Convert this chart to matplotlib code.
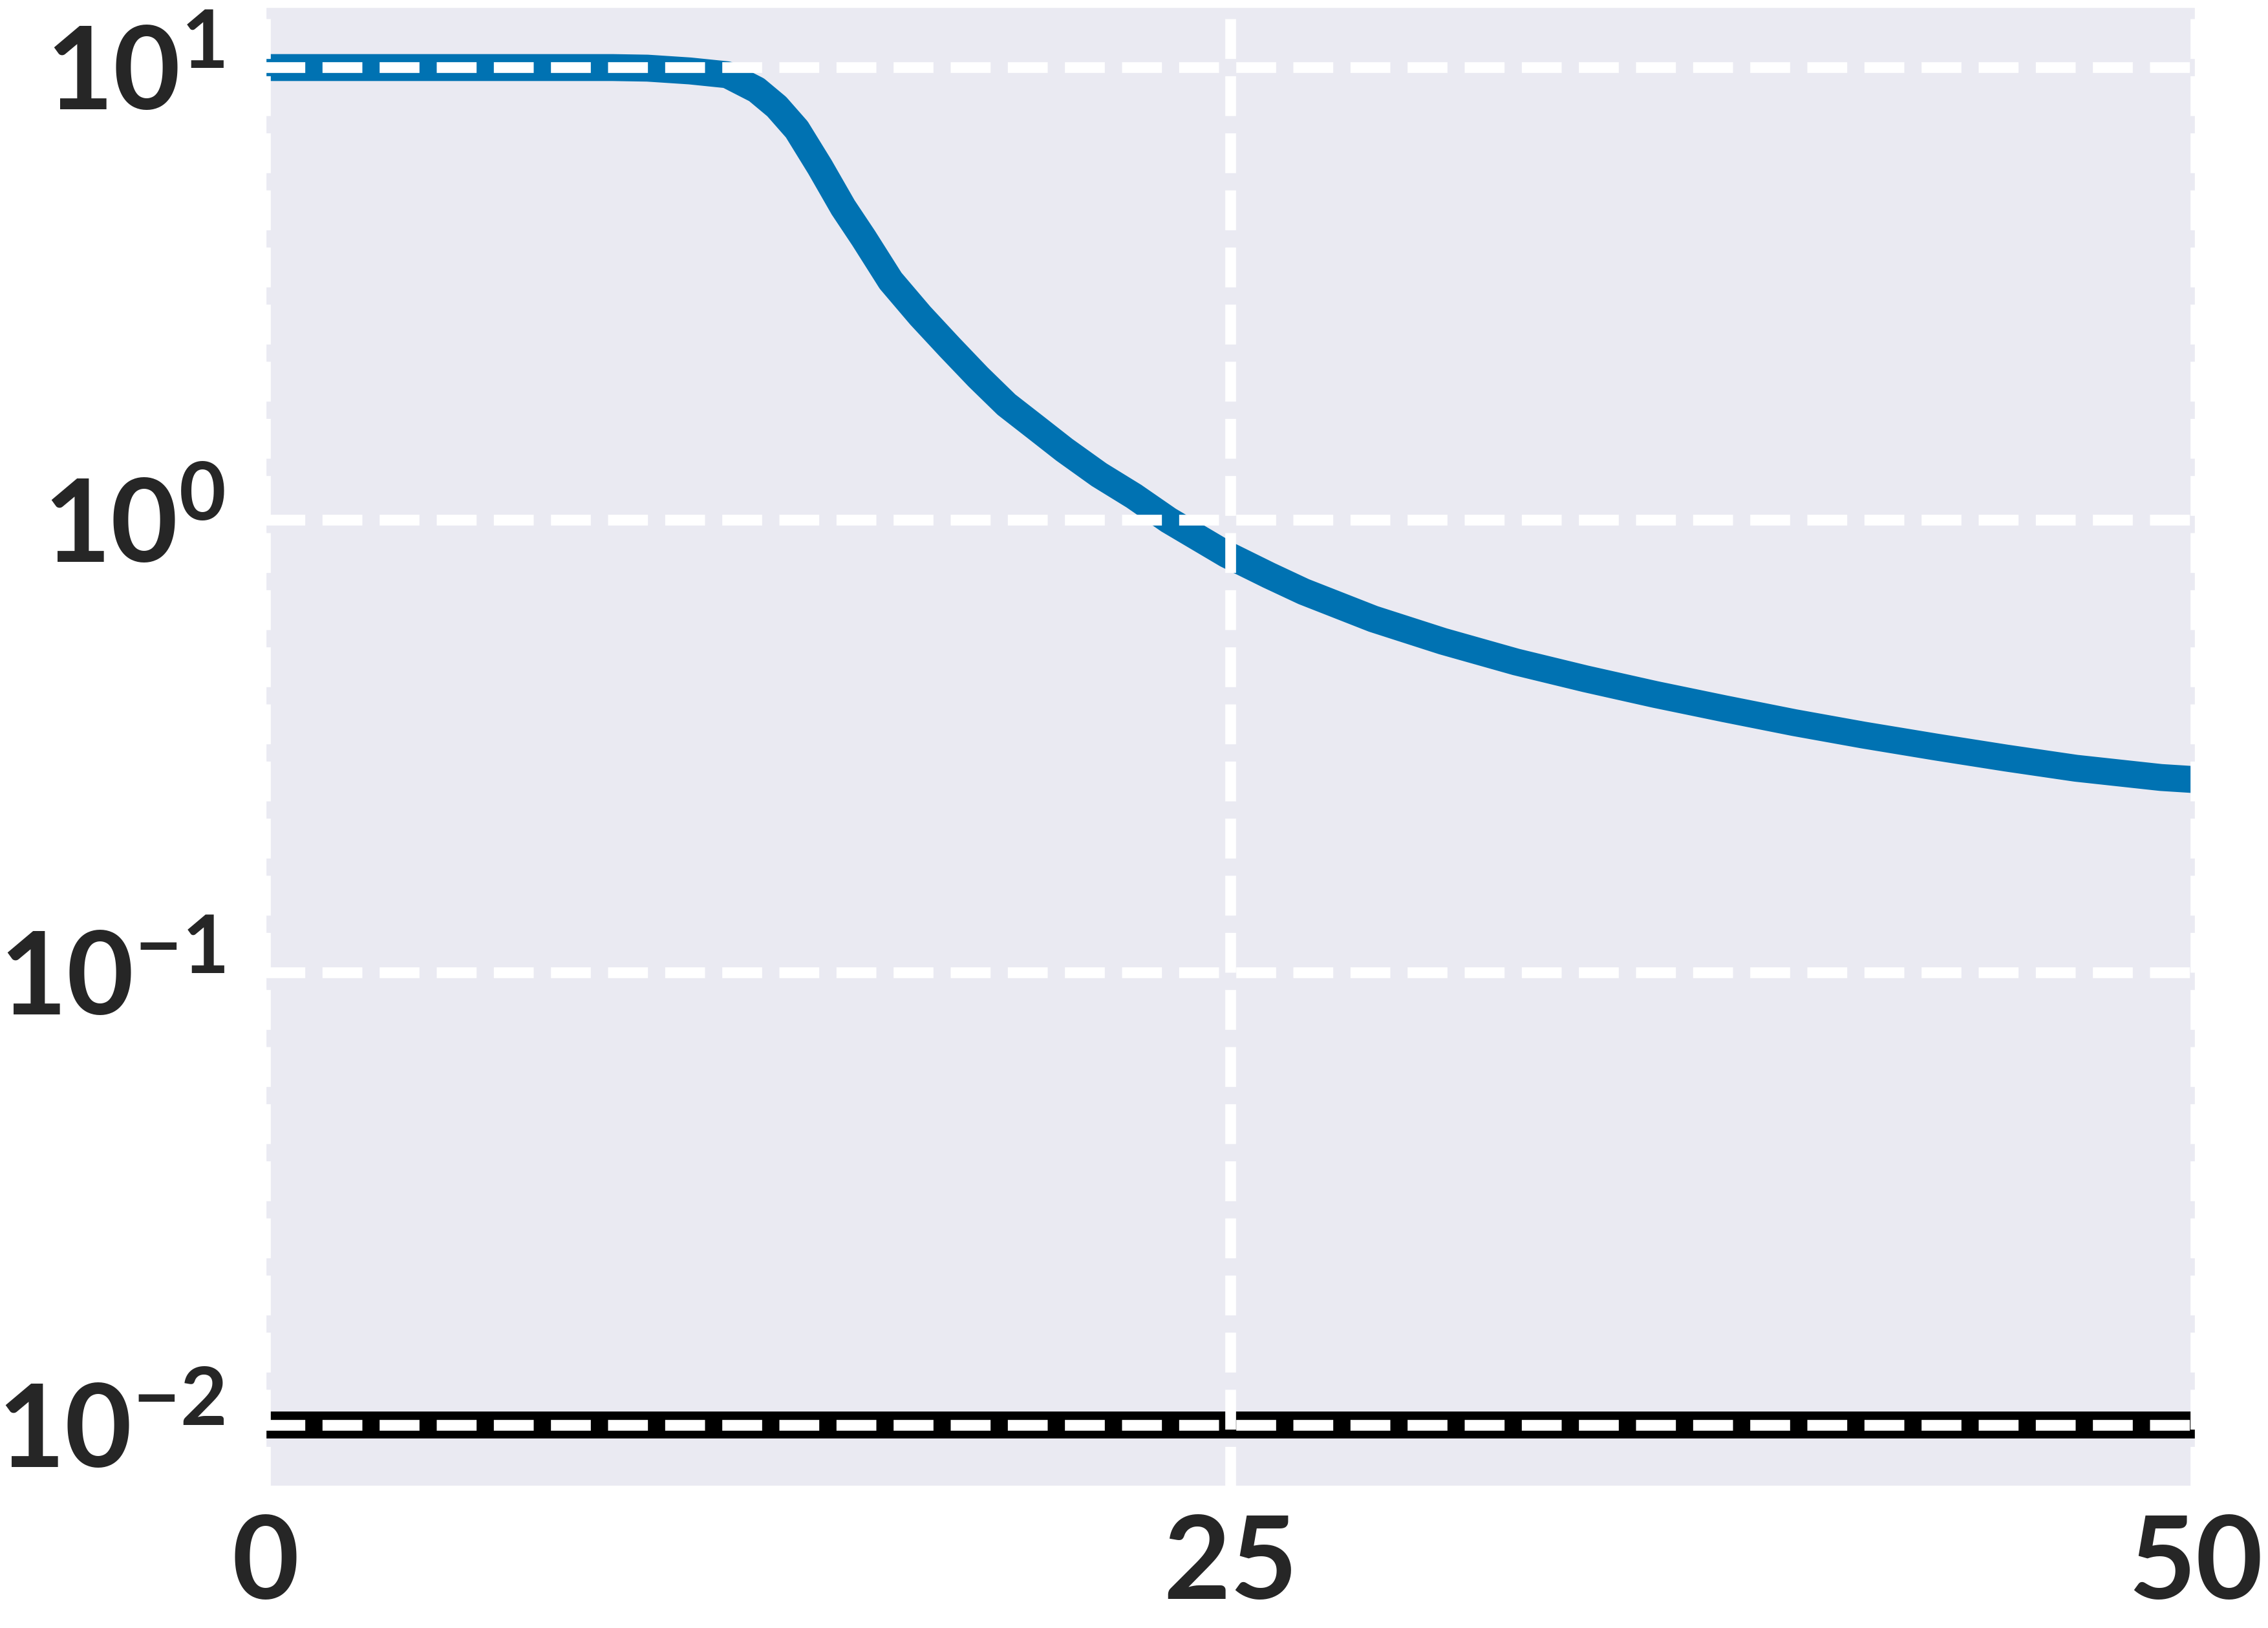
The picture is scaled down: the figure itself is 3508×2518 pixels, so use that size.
import matplotlib
matplotlib.use('Agg')
import matplotlib.pyplot as plt
import seaborn as sns

# values (log y axis)
epochs = [0, 5, 9.0, 9.9, 11.0, 11.97, 12.73, 13.25, 13.77, 14.37, 14.97, 15.5,
          16.2, 16.97, 17.73, 18.47, 19.2, 19.97, 20.7, 21.6, 22.5, 23.4, 24.9,
          26.0, 26.9, 28.7, 30.5, 32.4, 34.2, 36.0, 37.8, 39.6, 41.4, 43.3,
          45.1, 46.9, 49.1, 50]
loss = [10.0, 10.0, 10.0, 9.97, 9.83, 9.64, 8.93, 8.2, 7.3, 6.03, 4.91, 4.2,
        3.38, 2.83, 2.41, 2.07, 1.80, 1.60, 1.43, 1.26, 1.13, 1.0, 0.84,
        0.755, 0.695, 0.605, 0.540, 0.486, 0.446, 0.412, 0.383, 0.357, 0.335, 0.315,
        0.298, 0.283, 0.270, 0.267]
target_x = [0, 50]
target_y = [0.01, 0.01]
xticks = [0, 25, 50]

sns.set_style('darkgrid', {'grid.linestyle': '--', 'grid.color': 'white'})
plt.rcParams['font.family'] = ['Lato', 'DejaVu Sans']
plt.rcParams['font.weight'] = 'bold'

fig = plt.figure(figsize=(3508 / 300, 2518 / 300), dpi=300)
ax = fig.add_axes([0.1169, 0.08698, 0.8512, 0.90905])

ax.plot(epochs, loss, color='#0072B2', lw=10)
ax.plot(target_x, target_y, color='black', lw=10)

ax.set_yscale('log')
ax.set_xlim(0, 50)
ax.set_ylim(10 ** -2.135, 10 ** 1.135)
ax.set_xticks(xticks)
ax.set_axisbelow(False)
ax.grid(True, which='major', color='white', linestyle='--', linewidth=4)
ax.grid(False, which='minor')
ax.tick_params(axis='both', which='both', length=0, labelsize=43, colors='#262626')
ax.tick_params(axis='x', pad=10)
ax.tick_params(axis='y', pad=15)

fig.savefig('out.png', dpi=300)
